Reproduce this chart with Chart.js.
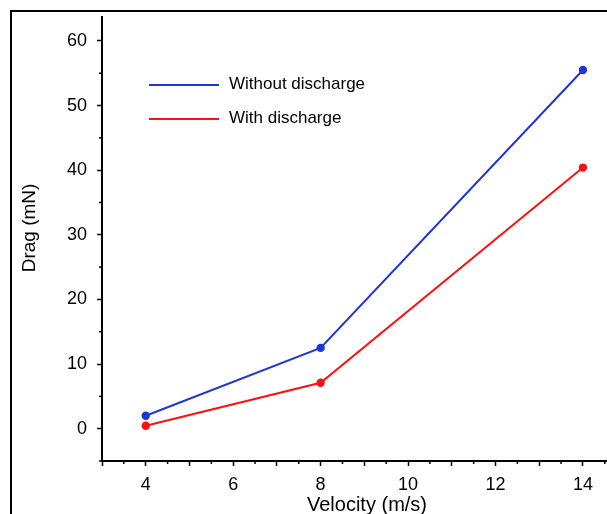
<!DOCTYPE html>
<html>
<head>
<meta charset="utf-8">
<script src="https://cdn.jsdelivr.net/npm/chart.js@4.4.1/dist/chart.umd.min.js"></script>
<style>
  html, body { margin: 0; padding: 0; background: #fff; }
  #wrap { width: 607px; height: 514px; }
</style>
</head>
<body>
<div id="wrap"><canvas id="chart" width="607" height="514"></canvas></div>
<script>
// data
const velocity = [4, 8, 14];
const dragWithout = [2.0, 12.5, 55.5];
const dragWith = [0.45, 7.1, 40.4];
const seriesNames = ["Without discharge", "With discharge"];
const xTickValues = [3, 4, 5, 6, 7, 8, 9, 10, 11, 12, 13, 14];
const xMinorValues = [3.5, 4.5, 5.5, 6.5, 7.5, 8.5, 9.5, 10.5, 11.5, 12.5, 13.5, 14.5];
const yTickValues = [0, 10, 20, 30, 40, 50, 60];
const yMinorValues = [-5, 5, 15, 25, 35, 45, 55];
const xTitle = "Velocity (m/s)";
const yTitle = "Drag (mN)";

const FONT = "'Liberation Sans', Arial, sans-serif";

// outer frame, axis titles, minor ticks, legend inside the plot
const extras = {
  id: "extras",
  beforeDraw(chart) {
    const c = chart.ctx;
    c.save();
    c.strokeStyle = "#000";
    c.lineWidth = 2;
    c.beginPath();
    c.moveTo(11, 520);
    c.lineTo(11, 11);
    c.lineTo(620, 11);
    c.stroke();
    c.restore();
  },
  afterDraw(chart) {
    const c = chart.ctx;
    const xs = chart.scales.x, ys = chart.scales.y;
    c.save();
    c.strokeStyle = "#000";
    c.lineWidth = 1.5;
    xMinorValues.forEach(v => {
      const px = xs.getPixelForValue(v);
      c.beginPath();
      c.moveTo(px, xs.top);
      c.lineTo(px, xs.top + 3);
      c.stroke();
    });
    yMinorValues.forEach(v => {
      const py = ys.getPixelForValue(v);
      c.beginPath();
      c.moveTo(ys.right, py);
      c.lineTo(ys.right - 3, py);
      c.stroke();
    });

    // axis titles
    c.fillStyle = "#000";
    c.textAlign = "center";
    c.textBaseline = "middle";
    c.font = "20px " + FONT;
    c.fillText(xTitle, 367, 505);
    c.save();
    c.translate(30, 228);
    c.rotate(-Math.PI / 2);
    c.font = "19px " + FONT;
    c.fillText(yTitle, 0, 0);
    c.restore();

    // legend
    const area = chart.chartArea;
    c.textAlign = "left";
    chart.data.datasets.forEach((ds, i) => {
      const y = area.top + 68 + i * 34;
      const x0 = area.left + 47;
      c.strokeStyle = ds.borderColor;
      c.lineWidth = 2;
      c.beginPath();
      c.moveTo(x0, y);
      c.lineTo(x0 + 70, y);
      c.stroke();
      c.fillStyle = "#000";
      c.font = "17px " + FONT;
      c.fillText(ds.label, x0 + 80, y - 1);
    });
    c.restore();
  }
};

new Chart(document.getElementById("chart"), {
  type: "line",
  data: {
    datasets: [
      {
        label: seriesNames[0],
        data: velocity.map((v, i) => ({ x: v, y: dragWithout[i] })),
        borderColor: "#1f35d6",
        backgroundColor: "#1f35d6",
        borderWidth: 2,
        pointRadius: 3.2,
        tension: 0
      },
      {
        label: seriesNames[1],
        data: velocity.map((v, i) => ({ x: v, y: dragWith[i] })),
        borderColor: "#ff1010",
        backgroundColor: "#ff1010",
        borderWidth: 2,
        pointRadius: 3.2,
        tension: 0
      }
    ]
  },
  options: {
    responsive: false,
    animation: false,
    devicePixelRatio: 1,
    layout: { autoPadding: false, padding: { top: 17, right: 0, left: 0, bottom: 0 } },
    plugins: { legend: { display: false }, tooltip: { enabled: false } },
    scales: {
      x: {
        type: "linear",
        min: 3,
        max: 14.55,
        afterBuildTicks: s => { s.ticks = xTickValues.map(v => ({ value: v })); },
        afterFit: s => { s.height = 53; s.paddingRight = 0; s.paddingLeft = 0; },
        ticks: {
          callback: v => (v % 2 === 0 ? String(v) : ""),
          autoSkip: false,
          maxRotation: 0,
          padding: 8,
          color: "#000",
          font: { family: FONT, size: 18 }
        },
        grid: { drawOnChartArea: false, tickLength: 5, tickWidth: 1.5, color: "#000" },
        border: { color: "#000", width: 2 }
      },
      y: {
        min: -5,
        max: 63.7,
        afterBuildTicks: s => { s.ticks = yTickValues.map(v => ({ value: v })); },
        afterFit: s => { s.width = 102; s.paddingTop = 0; s.paddingBottom = 0; },
        ticks: {
          padding: 10,
          color: "#000",
          font: { family: FONT, size: 18 }
        },
        grid: { drawOnChartArea: false, tickLength: 5, tickWidth: 1.5, color: "#000" },
        border: { color: "#000", width: 2 }
      }
    }
  },
  plugins: [extras]
});
</script>
</body>
</html>
